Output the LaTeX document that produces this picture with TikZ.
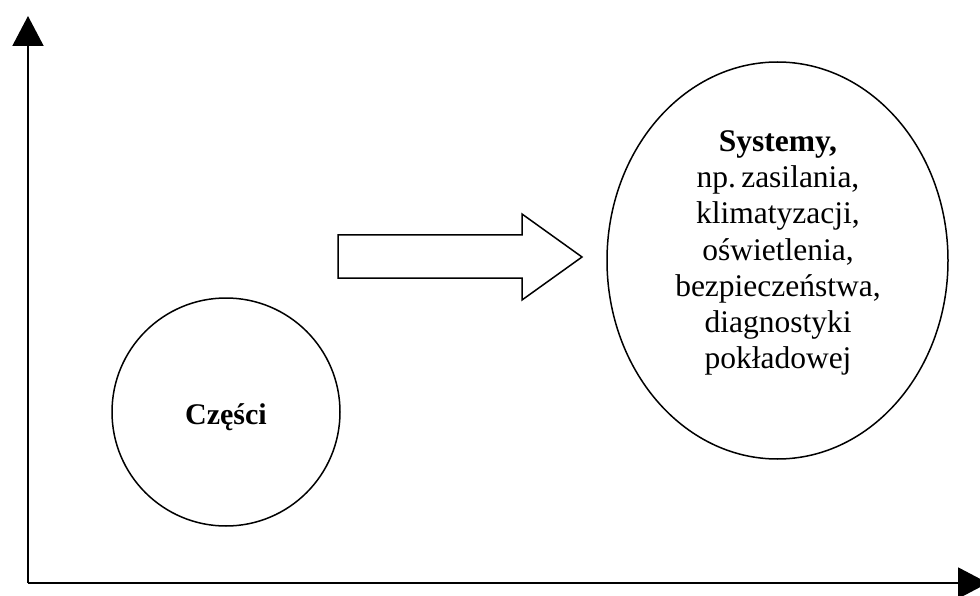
\documentclass[tikz,border=0pt]{standalone}
\usepackage{fontspec}
\setmainfont{Liberation Serif}
\usetikzlibrary{arrows.meta,shapes.geometric}
\begin{document}
\begin{tikzpicture}[x=1pt,y=-1pt,
  axis/.style={line width=2pt,-{Triangle[length=30pt,width=31pt]}},
  shapeline/.style={draw,line width=1.5pt},
  txt/.style={font=\fontsize{31.5}{36.3}\selectfont,align=center,inner sep=0pt}]
\clip (0,0) rectangle (980,596);
\fill[white] (0,0) rectangle (980,596);
\coordinate (o) at (28,583);
\coordinate (ytip) at (28,16);
\coordinate (xtip) at (988,583);
\draw[axis] (o) -- (ytip);
\draw[axis] (o) -- (xtip);
\node[shapeline,circle,minimum size=228pt,inner sep=0pt] (czesci) at (226,412) {};
\node[txt,font=\fontsize{30}{36.3}\selectfont\bfseries] (czlabel) at (226,417) {Części};
\node[shapeline,ellipse,minimum width=341pt,minimum height=397pt,inner sep=0pt] (sys) at (777.5,260.5) {};
\node[txt] (systxt) at (778,253) {\textbf{Systemy,}\\np.\,zasilania,\\klimatyzacji,\\oświetlenia,\\bezpieczeństwa,\\diagnostyki\\pokładowej};
\draw[line width=1.5pt,line join=miter] (338,235) -- (522,235) -- (522,214) -- (582,257) -- (522,300) -- (522,278) -- (338,278) -- cycle;
\end{tikzpicture}
\end{document}
